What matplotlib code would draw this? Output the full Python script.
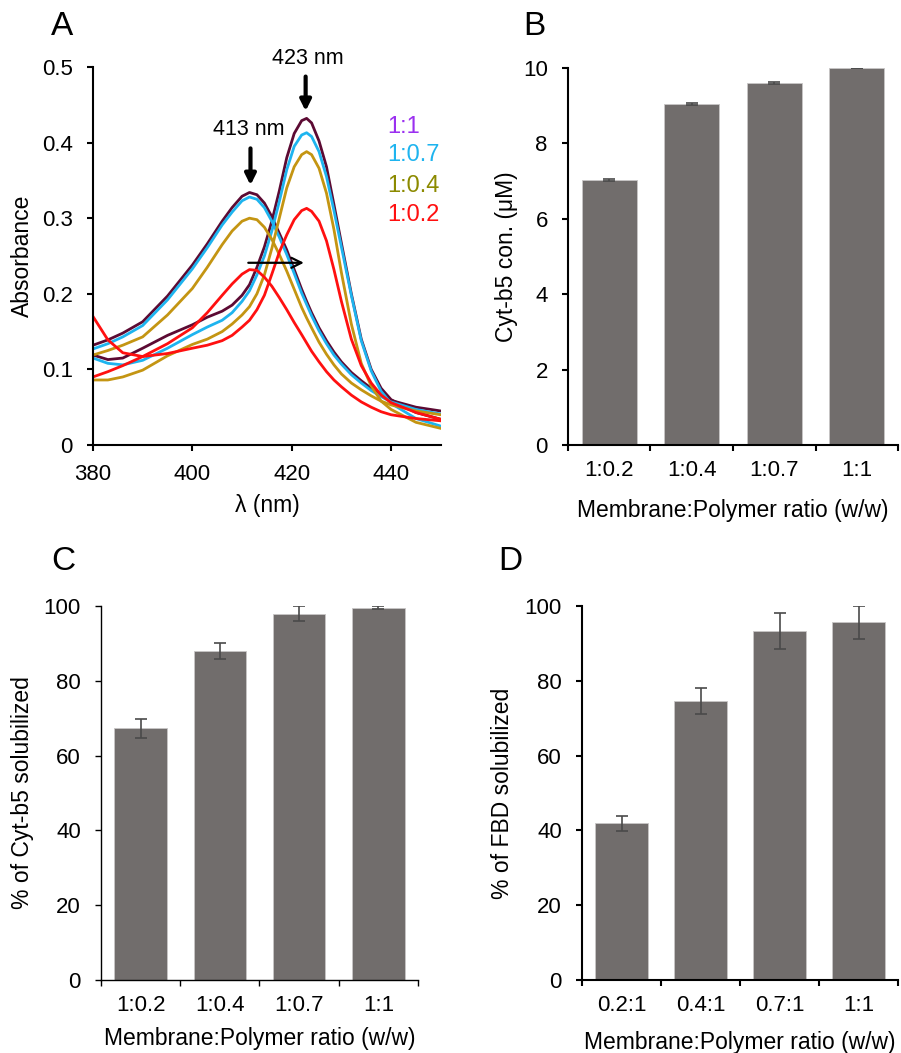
import numpy as np
import matplotlib
matplotlib.use("Agg")
import matplotlib.pyplot as plt

plt.rcParams["font.family"] = ["Liberation Sans", "DejaVu Sans"]
plt.rcParams["font.size"] = 16

# Panel A: absorbance spectra
wl = [380, 383, 386, 390, 395, 400, 403, 406, 408, 410, 411.5, 413, 414.5, 416, 417.5, 419,
      420.5, 422, 423, 424, 425.5, 427, 428.5, 430, 432, 434, 436, 438, 440, 445, 450]

abs_11_413 = [0.132, 0.139, 0.148, 0.163, 0.197, 0.238, 0.266, 0.296, 0.314, 0.329, 0.334, 0.331, 0.320, 0.302, 0.280, 0.258,
              0.232, 0.206, 0.190, 0.175, 0.155, 0.138, 0.123, 0.110, 0.096, 0.085, 0.075, 0.066, 0.059, 0.050, 0.045]
abs_11_423 = [0.119, 0.113, 0.115, 0.128, 0.145, 0.159, 0.169, 0.177, 0.185, 0.198, 0.212, 0.235, 0.262, 0.296, 0.336, 0.380,
              0.412, 0.429, 0.432, 0.426, 0.402, 0.368, 0.318, 0.267, 0.200, 0.140, 0.100, 0.075, 0.060, 0.043, 0.034]
abs_07_413 = [0.127, 0.134, 0.143, 0.158, 0.192, 0.233, 0.261, 0.291, 0.308, 0.323, 0.328, 0.325, 0.314, 0.296, 0.275, 0.252,
              0.227, 0.201, 0.186, 0.171, 0.151, 0.134, 0.119, 0.107, 0.093, 0.082, 0.072, 0.064, 0.057, 0.047, 0.041]
abs_07_423 = [0.115, 0.108, 0.106, 0.112, 0.128, 0.146, 0.156, 0.165, 0.175, 0.190, 0.204, 0.225, 0.250, 0.283, 0.322, 0.364,
              0.395, 0.410, 0.413, 0.408, 0.388, 0.355, 0.310, 0.262, 0.198, 0.138, 0.098, 0.071, 0.055, 0.035, 0.025]
abs_04_413 = [0.119, 0.125, 0.132, 0.143, 0.172, 0.207, 0.235, 0.265, 0.283, 0.296, 0.300, 0.298, 0.288, 0.272, 0.252, 0.230,
              0.206, 0.182, 0.168, 0.155, 0.136, 0.120, 0.106, 0.094, 0.082, 0.073, 0.065, 0.058, 0.053, 0.045, 0.040]
abs_04_423 = [0.086, 0.086, 0.090, 0.099, 0.118, 0.133, 0.140, 0.150, 0.160, 0.172, 0.183, 0.200, 0.225, 0.260, 0.300, 0.340,
              0.368, 0.384, 0.388, 0.384, 0.366, 0.333, 0.285, 0.228, 0.160, 0.108, 0.078, 0.058, 0.047, 0.030, 0.022]
abs_02_413 = [0.090, 0.097, 0.105, 0.117, 0.134, 0.155, 0.175, 0.198, 0.213, 0.226, 0.232, 0.231, 0.222, 0.210, 0.195, 0.179,
              0.162, 0.146, 0.135, 0.124, 0.110, 0.097, 0.086, 0.077, 0.066, 0.057, 0.050, 0.044, 0.040, 0.035, 0.032]
abs_02_423 = [0.170, 0.139, 0.122, 0.117, 0.121, 0.128, 0.132, 0.138, 0.145, 0.156, 0.165, 0.179, 0.198, 0.226, 0.255, 0.278,
              0.298, 0.310, 0.313, 0.309, 0.296, 0.270, 0.232, 0.190, 0.140, 0.105, 0.082, 0.066, 0.056, 0.043, 0.034]

ratio_labels = ["1:1", "1:0.7", "1:0.4", "1:0.2"]

# Panel B
b_cats = ["1:0.2", "1:0.4", "1:0.7", "1:1"]
b_vals = [7.02, 9.05, 9.60, 10.0]
b_err = [0.03, 0.02, 0.02, 0.01]

# Panel C
c_cats = ["1:0.2", "1:0.4", "1:0.7", "1:1"]
c_vals = [67.3, 87.9, 97.9, 99.5]
c_err = [2.6, 2.1, 2.0, 0.4]

# Panel D
d_cats = ["0.2:1", "0.4:1", "0.7:1", "1:1"]
d_vals = [41.9, 74.7, 93.3, 95.6]
d_err = [2.0, 3.5, 4.7, 4.3]

maroon = "#5c0a33"
blue = "#1eb4ef"
gold = "#c49512"
red = "#ff1010"
bar_col = "#716d6c"

fig = plt.figure(figsize=(9.01, 10.53), dpi=100)

def style_axes(ax, lw=1.5):
    for s in ["top", "right"]:
        ax.spines[s].set_visible(False)
    ax.spines["left"].set_linewidth(lw)
    ax.spines["bottom"].set_linewidth(lw)
    ax.tick_params(direction="out", length=4.5, width=lw, labelsize=16)
    ax.tick_params(axis="y", pad=10)
    ax.tick_params(axis="x", pad=9)

# ---- A ----
axA = fig.add_axes([0.1032, 0.5774, 0.386, 0.359])
lw_sp = 2.0
axA.plot(wl, abs_11_413, color=maroon, lw=lw_sp)
axA.plot(wl, abs_11_423, color=maroon, lw=lw_sp)
axA.plot(wl, abs_07_413, color=blue, lw=lw_sp)
axA.plot(wl, abs_07_423, color=blue, lw=lw_sp)
axA.plot(wl, abs_04_413, color=gold, lw=lw_sp)
axA.plot(wl, abs_04_423, color=gold, lw=lw_sp)
axA.plot(wl, abs_02_413, color=red, lw=lw_sp)
axA.plot(wl, abs_02_423, color=red, lw=lw_sp)
axA.set_xlim(380, 450)
axA.set_ylim(0, 0.5)
axA.set_xticks([380, 400, 420, 440])
axA.set_yticks([0, 0.1, 0.2, 0.3, 0.4, 0.5])
axA.set_yticklabels(["0", "0.1", "0.2", "0.3", "0.4", "0.5"])
style_axes(axA)
axA.set_xlabel("λ (nm)", fontsize=16.5)
axA.xaxis.set_label_coords(0.5, -0.159)
axA.xaxis.label.set_va("center")
axA.set_ylabel("Absorbance", fontsize=16.5)
axA.yaxis.set_label_coords(-0.204, 0.5)
axA.yaxis.label.set_va("center")
axA.annotate("", xy=(423, 0.241), xytext=(410.7, 0.241),
             arrowprops=dict(arrowstyle="->", color="black", lw=1.6, mutation_scale=18))
axA.annotate("", xy=(411.7, 0.340), xytext=(411.7, 0.396),
             arrowprops=dict(arrowstyle="-|>", color="black", lw=3, mutation_scale=16))
axA.annotate("", xy=(422.8, 0.438), xytext=(422.8, 0.491), annotation_clip=False,
             arrowprops=dict(arrowstyle="-|>", color="black", lw=3, mutation_scale=16))
axA.text(411.3, 0.417, "413 nm", ha="center", va="center", fontsize=15.5)
axA.text(423.2, 0.511, "423 nm", ha="center", va="center", fontsize=15.5, clip_on=False)
leg_cols = ["#9b30f0", "#1eb4ef", "#8c8a00", "#ff1010"]
leg_y = [0.421, 0.383, 0.343, 0.304]
for lab, c, y in zip(ratio_labels, leg_cols, leg_y):
    axA.text(439.3, y, lab, color=c, fontsize=17, ha="left", va="center")
fig.text(0.0688, 0.9744, "A", fontsize=24, ha="center", va="center")

def bar_panel(rect, cats, vals, errs, ylim, yticks, ylabel, letter, lpos, ylab_x, xlab_y, lw=1.5):
    ax = fig.add_axes(rect)
    x = np.arange(len(cats))
    ax.bar(x, vals, width=0.665, color=bar_col, edgecolor="#c8c6c6", linewidth=0.6,
           yerr=errs, error_kw=dict(ecolor="#4a4a4a", elinewidth=1.2, capsize=4, capthick=1.2))
    ax.set_xlim(-0.5, len(cats) - 0.5)
    ax.set_ylim(*ylim)
    ax.set_yticks(yticks)
    ax.set_xticks(np.arange(-0.5, len(cats), 1.0))
    ax.set_xticklabels([])
    ax.set_xticks(x, minor=True)
    ax.set_xticklabels(cats, minor=True)
    style_axes(ax, lw)
    ax.tick_params(axis="x", which="minor", length=0, labelsize=16, pad=11)
    ax.set_xlabel("Membrane:Polymer ratio (w/w)", fontsize=16.5)
    ax.xaxis.set_label_coords(0.5, xlab_y)
    ax.xaxis.label.set_va("center")
    ax.set_ylabel(ylabel, fontsize=16.5)
    ax.yaxis.set_label_coords(ylab_x, 0.5)
    ax.yaxis.label.set_va("center")
    fig.text(lpos[0], lpos[1], letter, fontsize=24, ha="center", va="center")
    return ax

bar_panel([0.6304, 0.5774, 0.3663, 0.358], b_cats, b_vals, b_err, (0, 10),
          [0, 2, 4, 6, 8, 10], "Cyt-b5 con. (μM)", "B", (0.5927, 0.9744), -0.185, -0.175)
bar_panel([0.1121, 0.0693, 0.3518, 0.3552], c_cats, c_vals, c_err, (0, 100),
          [0, 20, 40, 60, 80, 100], "% of Cyt-b5 solubilized", "C", (0.0699, 0.4672), -0.249, -0.155, lw=1.0)
bar_panel([0.646, 0.0693, 0.3507, 0.3552], d_cats, d_vals, d_err, (0, 100),
          [0, 20, 40, 60, 80, 100], "% of FBD solubilized", "D", (0.566, 0.4672), -0.253, -0.166)

fig.savefig("out.png", dpi=100)
